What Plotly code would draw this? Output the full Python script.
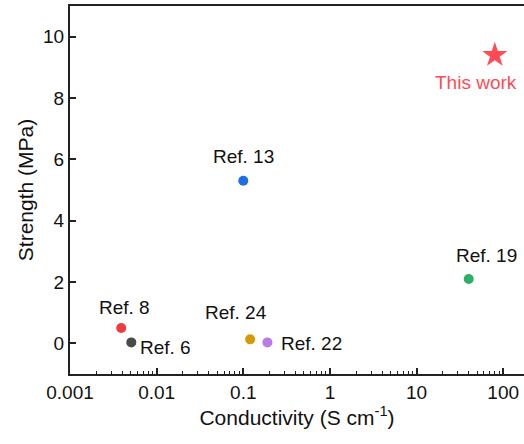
import math
import plotly.graph_objects as go

labels = ["Ref. 8", "Ref. 6", "Ref. 24", "Ref. 22", "Ref. 13", "Ref. 19"]
conductivity = [0.0039, 0.0051, 0.12, 0.19, 0.10, 40.0]
strength = [0.5, 0.03, 0.13, 0.03, 5.3, 2.1]
colors = ["#ee3b3f", "#4a4a4a", "#d19a06", "#b77ce6", "#1f6ee6", "#2eb068"]

this_label = "This work"
this_conductivity = [80.0]
this_strength = [9.4]
this_color = "#ff4b55"

# label offsets (pixels) relative to point
label_shift = {
    "Ref. 8": (3, 21, "center"),
    "Ref. 6": (7, -5, "left"),
    "Ref. 24": (-14, 27, "center"),
    "Ref. 22": (12, -1, "left"),
    "Ref. 13": (0, 24, "center"),
    "Ref. 19": (18, 23, "center"),
}

fig = go.Figure()
fig.add_trace(go.Scatter(
    x=conductivity, y=strength, mode="markers",
    marker=dict(size=10, color=colors), showlegend=False,
))
fig.add_trace(go.Scatter(
    x=this_conductivity, y=this_strength, mode="markers",
    marker=dict(size=19, color=this_color, symbol="star"), showlegend=False,
))

font = "Liberation Sans, Arial, sans-serif"
for lab, xv, yv in zip(labels, conductivity, strength):
    dx, dy, anc = label_shift[lab]
    fig.add_annotation(x=math.log10(xv), y=yv, xref="x", yref="y", text=lab, showarrow=False,
                       xshift=dx, yshift=dy, xanchor=anc,
                       font=dict(family=font, size=19, color="#111111"))
fig.add_annotation(x=math.log10(this_conductivity[0]), y=this_strength[0], text=this_label,
                   showarrow=False, xshift=-19, yshift=-27,
                   font=dict(family=font, size=19, color=this_color))

fig.update_layout(
    width=524, height=444,
    margin=dict(l=70, r=0, t=6, b=70),
    plot_bgcolor="white", paper_bgcolor="white",
    font=dict(family=font, size=19, color="#111111"),
)
fig.update_xaxes(
    type="log", range=[-3, 2.24], automargin=False,
    tickvals=[0.001, 0.01, 0.1, 1, 10, 100],
    ticktext=["0.001", "0.01", "0.1", "1", "10", "100"],
    ticks="inside", ticklen=6, tickwidth=1.5, tickcolor="#222",
    minor=dict(ticks="inside", ticklen=3, tickwidth=1.2, tickcolor="#222",
               tickvals=[m * 10**e for e in range(-3, 3) for m in range(2, 10)]),
    showline=True, linecolor="#222", linewidth=2, mirror=True,
    showgrid=False, zeroline=False,
    tickfont=dict(size=19),
    title=dict(text="Conductivity (S cm<sup>-1</sup>)", font=dict(size=21), standoff=6),
)
fig.update_yaxes(
    range=[-1, 11], tickvals=[0, 2, 4, 6, 8, 10], automargin=False,
    ticks="inside", ticklen=6, tickwidth=1.5, tickcolor="#222",
    showline=True, linecolor="#222", linewidth=2, mirror=False,
    showgrid=False, zeroline=False,
    tickfont=dict(size=19),
    title=dict(text="Strength (MPa)", font=dict(size=21), standoff=4),
)

fig.write_html("out.html", config={"displayModeBar": False},
               post_script="document.body.style.margin='0';document.body.style.overflow='hidden';")
